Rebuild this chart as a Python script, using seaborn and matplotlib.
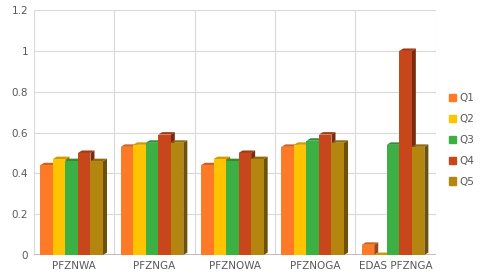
import pandas as pd
import seaborn as sns
import matplotlib.pyplot as plt
from matplotlib.patches import Polygon, Patch
from matplotlib.colors import to_rgb

categories = ["PFZNWA", "PFZNGA", "PFZNOWA", "PFZNOGA", "EDAS PFZNGA"]
series = ["Q1", "Q2", "Q3", "Q4", "Q5"]
q1 = [0.44, 0.53, 0.44, 0.53, 0.05]
q2 = [0.47, 0.54, 0.47, 0.54, 0.0]
q3 = [0.46, 0.55, 0.46, 0.56, 0.54]
q4 = [0.50, 0.59, 0.50, 0.59, 1.0]
q5 = [0.46, 0.55, 0.47, 0.55, 0.53]
yticks = [0, 0.2, 0.4, 0.6, 0.8, 1, 1.2]

colors = ["#ff7a26", "#ffc300", "#3cb043", "#c8471a", "#b5860f"]

rows = []
for name, vals in zip(series, [q1, q2, q3, q4, q5]):
    for c, v in zip(categories, vals):
        rows.append({"cat": c, "q": name, "val": v})
df = pd.DataFrame(rows)

sns.set_style("white")
fig = plt.figure(figsize=(4.84, 2.73), dpi=100)
ax = fig.add_axes([0.07, 0.066, 0.83, 0.897])

sns.barplot(data=df, x="cat", y="val", hue="q", palette=colors, width=0.78,
            saturation=1, legend=False, ax=ax, zorder=3, linewidth=0,
            edgecolor="none")

# fake 3d depth from the drawn bars
dx, dy = 0.05, 0.012
def shade(c, f):
    r, g, b = to_rgb(c)
    return (r * f, g * f, b * f)

for cont, col in zip(ax.containers, colors):
    for bar in cont:
        bar.set_x(bar.get_x() - 0.03)
        x, w, h = bar.get_x(), bar.get_width(), bar.get_height()
        side = [(x + w, 0), (x + w + dx, dy), (x + w + dx, h + dy), (x + w, h)]
        top = [(x, h), (x + dx, h + dy), (x + w + dx, h + dy), (x + w, h)]
        ax.add_patch(Polygon(side, closed=True, color=shade(col, 0.6), zorder=2.8, lw=0))
        ax.add_patch(Polygon(top, closed=True, color=shade(col, 0.8), zorder=2.8, lw=0))

ax.axhline(0, color="#bfbfbf", lw=1.5, zorder=2)
ax.set_xlim(-0.5, 4.5)
ax.set_ylim(0, 1.2)
ax.set_yticks(yticks)
ax.set_yticklabels(["0", "0.2", "0.4", "0.6", "0.8", "1", "1.2"])
ax.set_xticks(range(5))
ax.set_xticklabels(categories)
for xv in [-0.5, 0.5, 1.5, 2.5, 3.5, 4.5]:
    ax.axvline(xv, color="#d9d9d9", lw=0.8, zorder=0)
ax.yaxis.grid(True, color="#d9d9d9", lw=0.8)
ax.set_axisbelow(True)
for s in ax.spines.values():
    s.set_visible(False)
ax.set_xlabel("")
ax.set_ylabel("")
ax.tick_params(axis="both", length=0, labelsize=7.5, colors="#595959", pad=4)

handles = [Patch(color=c, label=s) for c, s in zip(colors, series)]
leg = ax.legend(handles=handles, loc="center left", bbox_to_anchor=(1.01, 0.47),
                frameon=False, fontsize=7.5, handlelength=0.7, handleheight=0.7,
                handletextpad=0.3, labelspacing=1.05)
for t in leg.get_texts():
    t.set_color("#595959")

fig.savefig("out.png", dpi=100)
